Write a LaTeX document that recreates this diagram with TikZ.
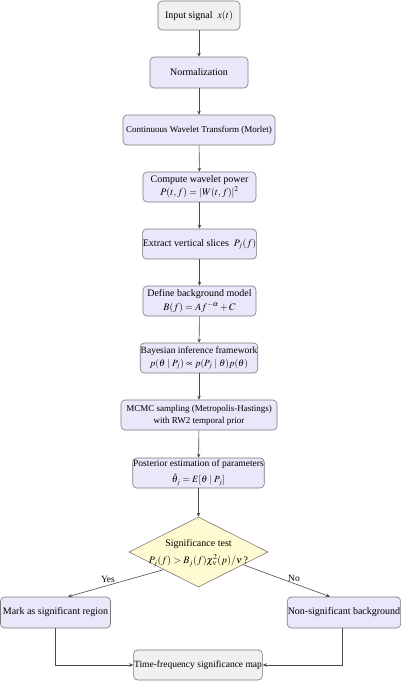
\documentclass[tikz,border=0pt]{standalone}
\usepackage{mathptmx}
\usepackage{fontspec}
\setmainfont{Liberation Serif}
\usetikzlibrary{shapes.geometric,arrows.meta,calc}
\definecolor{boxgrey}{HTML}{F0F0F0}
\definecolor{boxlav}{HTML}{E8E8FA}
\definecolor{boxyel}{HTML}{FFFBD0}
\definecolor{edgec}{HTML}{7A7A7A}
\definecolor{linec}{HTML}{4A4A4A}
\begin{document}
\begin{tikzpicture}[x=1pt,y=-1pt,
  every node/.style={font=\rmfamily\fontsize{10}{12}\selectfont, text=black},
  base/.style={draw=edgec, line width=0.6pt, rounded corners=4pt, align=center, inner sep=0.5pt},
  greybox/.style={base, fill=boxgrey},
  lavbox/.style={base, fill=boxlav},
  small/.style={font=\rmfamily\fontsize{9}{11}\selectfont},
  mid/.style={font=\rmfamily\fontsize{9.5}{11.5}\selectfont},
  decis/.style={diamond, draw=edgec, line width=0.6pt, fill=boxyel, inner sep=0pt, minimum width=139pt, minimum height=70pt},
  conn/.style={draw=linec, line width=0.6pt, -{Stealth[length=4pt,width=3.5pt]}},
  lbl/.style={font=\rmfamily\fontsize{9.5}{11}\selectfont, inner sep=0.5pt}
]
\useasboundingbox (0,0) rectangle (400,681);
\node[greybox, minimum width=82pt, minimum height=29pt] (n1) at (199,15.5) {Input signal \ $x(t)$};
\node[lavbox, minimum width=98pt, minimum height=31pt] (n2) at (199,72.5) {Normalization};
\node[lavbox, small, minimum width=152pt, minimum height=30pt] (n3) at (199,130) {Continuous Wavelet Transform (Morlet)};
\node[lavbox, minimum width=113pt, minimum height=30pt] (n4) at (199.5,187) {Compute wavelet power\\[1.5pt] $P(t,f)=\left|W(t,f)\right|^2$};
\node[lavbox, minimum width=113pt, minimum height=30pt] (n5) at (199.5,244) {Extract vertical slices \ $P_j(f)$};
\node[lavbox, minimum width=113pt, minimum height=30pt] (n6) at (199.5,301) {Define background model\\[1.5pt] $B(f)=Af^{-\alpha}+C$};
\node[lavbox, mid, minimum width=114pt, minimum height=30pt] (n7) at (199,358) {Bayesian inference framework\\[1.5pt] $p(\theta\mid P_j)\propto p(P_j\mid\theta)p(\theta)$};
\node[lavbox, small, minimum width=156pt, minimum height=30pt] (n8) at (199,415) {MCMC sampling (Metropolis-Hastings)\\[1pt] with RW2 temporal prior};
\node[lavbox, mid, minimum width=129pt, minimum height=30pt] (n9) at (198.5,473) {Posterior estimation of parameters\\[4.5pt] $\hat{\theta}_j=E[\theta\mid P_j]$};
\node[decis] (d) at (198.5,552) {};
\node[align=center] (dt) at (198.5,553) {Significance test\\[5pt] $P_j(f)>B_j(f)\chi^2_\nu(p)/\nu$\,?};
\node[lavbox, minimum width=110pt, minimum height=31pt] (mark) at (55.5,612.5) {Mark as significant region};
\node[lavbox, minimum width=111pt, minimum height=31pt] (nons) at (344,612.5) {Non-significant background};
\node[greybox, font=\rmfamily\fontsize{9.5}{11}\selectfont, minimum width=128pt, minimum height=30pt] (tf) at (198,665) {Time-frequency significance map};
\node[lbl] (yes) at (108,579) {Yes};
\node[lbl] (no) at (294,578) {No};

\draw[conn] (n1) -- (n2);
\draw[conn] (n2) -- (n3);
\draw[conn] (n3) -- (n4);
\draw[conn] (n4) -- (n5);
\draw[conn] (n5) -- (n6);
\draw[conn] (n6) -- (n7);
\draw[conn] (n7) -- (n8);
\draw[conn] (n8) -- (n9);
\draw[conn] (n9) -- (d);
\draw[conn] ($(d.south)!0.5!(d.west)$) -- ($(mark.north)+(12.5,0)$);
\draw[conn] ($(d.south)!0.64!(d.east)$) -- ($(nons.north)+(-14,0)$);
\draw[conn] (mark.south) |- (tf.west);
\draw[conn] ($(nons.south)+(-2,0)$) |- (tf.east);
\end{tikzpicture}
\end{document}
